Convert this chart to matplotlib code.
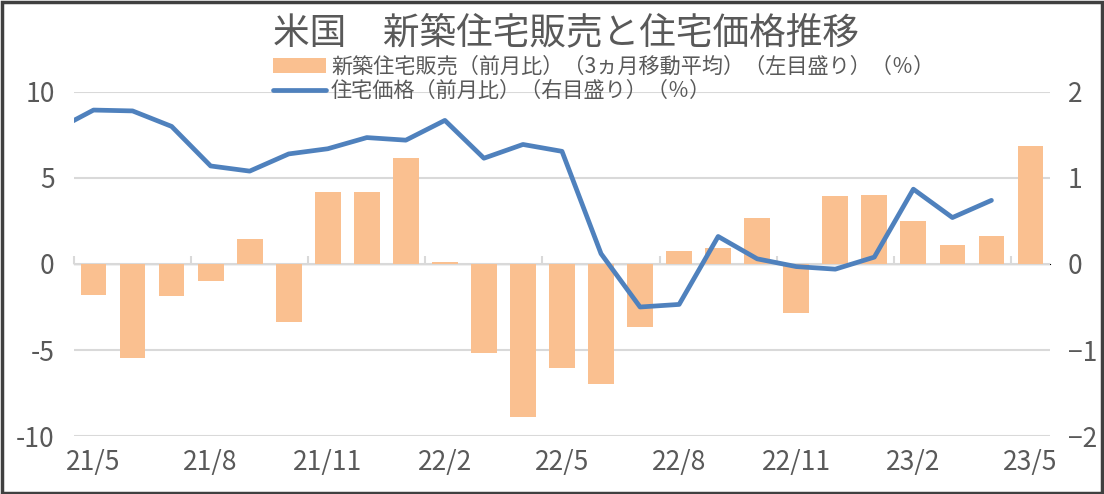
import matplotlib.pyplot as plt
import numpy as np
from matplotlib.patches import Rectangle

plt.rcParams['font.family'] = ['Noto Sans CJK JP', 'DejaVu Sans']

months = ['21/5', '21/6', '21/7', '21/8', '21/9', '21/10', '21/11', '21/12',
          '22/1', '22/2', '22/3', '22/4', '22/5', '22/6', '22/7', '22/8',
          '22/9', '22/10', '22/11', '22/12', '23/1', '23/2', '23/3', '23/4', '23/5']
# new home sales, m/m, 3-month moving average (left axis, %)
sales = [-1.78, -5.45, -1.84, -1.0, 1.43, -3.35, 4.2, 4.2, 6.16, 0.13,
         -5.2, -8.9, -6.05, -7.0, -3.68, 0.77, 0.91, 2.67, -2.85, 3.93,
         4.03, 2.5, 1.1, 1.6, 6.88]
# house price, m/m (right axis, %), first value is 21/4 (off the left edge)
price = [1.55, 1.79, 1.78, 1.60, 1.14, 1.08, 1.28, 1.34, 1.47, 1.44, 1.67,
         1.23, 1.39, 1.31, 0.12, -0.50, -0.47, 0.32, 0.06, -0.03, -0.06,
         0.08, 0.87, 0.54, 0.74]

gray = '#595959'
grid = '#D9D9D9'

fig = plt.figure(figsize=(11.04, 4.94), dpi=100)
ax = fig.add_axes([74 / 1104, 1 - 436 / 494, 976 / 1104, 344 / 494])
x = np.arange(len(months))

bars = ax.bar(x, sales, width=0.66, color='#FAC090', zorder=2,
              label='新築住宅販売（前月比）（3ヵ月移動平均）（左目盛り）（％）')
ax.set_xlim(-0.5, len(months) - 0.5)
ax.set_ylim(-10, 10)
ax.set_yticks([-10, -5, 0, 5, 10])
ax.set_yticklabels(['-10', '-5', '0', '5', '10'])
ax.grid(axis='y', color=grid, linewidth=1.5, zorder=0)
ax.set_axisbelow(True)
ax.set_xticks(x[::3])
ax.set_xticklabels(months[::3])
ax.tick_params(axis='x', length=0, pad=9, labelsize=19, labelcolor=gray)
ax.tick_params(axis='y', length=0, pad=14, labelsize=19, labelcolor=gray)
for s in ax.spines.values():
    s.set_visible(False)

# category axis line through zero with tick marks at group boundaries
sec = ax.secondary_xaxis(0.5)
sec.set_xticks(np.arange(-0.5, len(months), 3))
sec.set_xticklabels([])
sec.tick_params(axis='x', direction='out', length=6, width=1.5, color=grid)
sec.spines['bottom'].set_color(grid)
sec.spines['bottom'].set_linewidth(1.5)

ax2 = ax.twinx()
line, = ax2.plot(np.arange(-1, len(price) - 1), price, color='#4F81BD',
                 linewidth=3.4, solid_joinstyle='round', solid_capstyle='round',
                 label='住宅価格（前月比）（右目盛り）（％）')
ax2.set_ylim(-2, 2)
ax2.set_yticks([-2, -1, 0, 1, 2])
ax2.tick_params(axis='y', length=0, pad=13, labelsize=19, labelcolor=gray)
for s in ax2.spines.values():
    s.set_visible(False)

fig.text(566 / 1104, 1 - 33 / 494, '米国　新築住宅販売と住宅価格推移',
         ha='center', va='center', fontsize=26.4, color=gray)

fig.legend(handles=[bars, line], loc='upper left',
           bbox_to_anchor=(273 / 1104, 1 - 56 / 494), frameon=False,
           fontsize=15.2, labelcolor=gray, handlelength=2.5,
           handletextpad=0.25, labelspacing=0.1, borderpad=0, borderaxespad=0)

fig.patches.append(Rectangle((0.002, 0.003), 0.996, 0.993, transform=fig.transFigure,
                             fill=False, edgecolor='#404040', linewidth=2.5))

fig.savefig('out.png', dpi=100)
